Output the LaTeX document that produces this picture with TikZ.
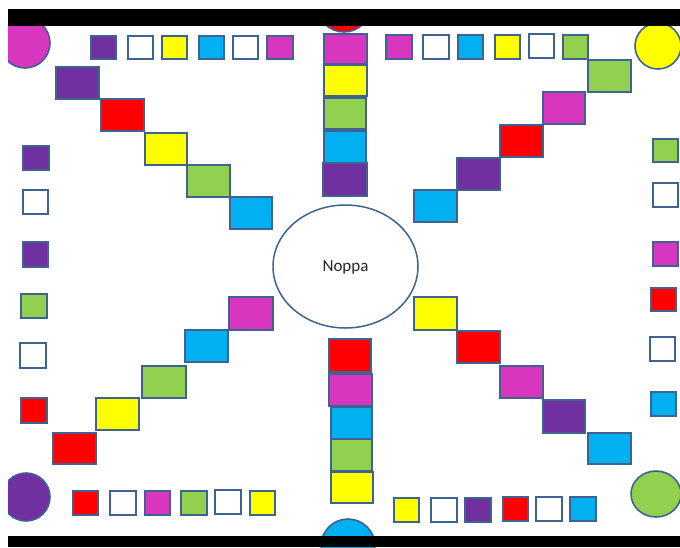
\documentclass[tikz,border=0pt]{standalone}
\usepackage{fontspec}
\setmainfont{Carlito}
\usetikzlibrary{shapes.geometric}
\definecolor{cPur}{HTML}{7030A0}
\definecolor{cMag}{HTML}{D936BF}
\definecolor{cCya}{HTML}{00B0F0}
\definecolor{cGre}{HTML}{92D050}
\definecolor{cYel}{HTML}{FFFF00}
\definecolor{cRed}{HTML}{FF0000}
\definecolor{cWhi}{HTML}{FFFFFF}
\definecolor{edge}{HTML}{3F6391}
\tikzset{
  tile/.style={draw=edge, line width=1.8pt, rectangle, inner sep=0pt, outer sep=0pt},
  disc/.style={draw=edge, line width=1.6pt, ellipse, inner sep=0pt, outer sep=0pt},
  dice/.style={draw=edge, line width=1.5pt, ellipse, fill=white, inner sep=0pt, text depth=0pt, font=\fontsize{17}{20}\selectfont, text=black!85}
}
\newcommand{\tile}[6]{\node[tile,fill=#2,minimum width={#5-#3},minimum height={#6-#4}] (#1) at ({(#3+#5)/2},{(#4+#6)/2}) {};}
\newcommand{\disc}[6]{\node[disc,fill=#2,minimum width={2*#5},minimum height={2*#6}] (#1) at (#3,#4) {};}
\begin{document}
\begin{tikzpicture}[x=1pt,y=-1pt]
\useasboundingbox (0,0) rectangle (680,547);
\begin{scope}
\clip (8,9) rectangle (681,547);
% corner and edge circles
\disc{cTL}{cMag}{25}{43}{25}{25}
\disc{cTR}{cYel}{658}{46}{23}{23}
\disc{cBL}{cPur}{26}{497}{24}{24}
\disc{cBR}{cGre}{656}{494}{25}{23}
\disc{cT}{cRed}{344}{5}{27}{27}
\disc{cB}{cCya}{348}{546}{27}{27}
% centre
\node[dice,minimum width=145,minimum height=123] (noppa) at (345.5,266.5) {Noppa};
% top-left diagonal
\tile{a1}{cPur}{56}{67}{99}{99}
\tile{a2}{cRed}{101}{99}{144}{131}
\tile{a3}{cYel}{145}{133}{187}{165}
\tile{a4}{cGre}{187}{165}{230}{197}
\tile{a5}{cCya}{230}{197}{272}{229}
% top column
\tile{b1}{cMag}{324}{34}{367}{64}
\tile{b2}{cYel}{324}{65}{367}{96}
\tile{b3}{cGre}{324}{98}{366}{129}
\tile{b4}{cCya}{324}{131}{366}{163}
\tile{b5}{cPur}{323}{163}{367}{196}
% top-right diagonal
\tile{c1}{cGre}{588}{60}{631}{92}
\tile{c2}{cMag}{543}{92}{585}{124}
\tile{c3}{cRed}{500}{125}{543}{157}
\tile{c4}{cPur}{457}{158}{500}{190}
\tile{c5}{cCya}{414}{190}{457}{222}
% bottom-left diagonal
\tile{d1}{cMag}{229}{297}{273}{330}
\tile{d2}{cCya}{185}{330}{228}{362}
\tile{d3}{cGre}{142}{366}{186}{398}
\tile{d4}{cYel}{96}{398}{139}{430}
\tile{d5}{cRed}{53}{433}{96}{464}
% bottom column
\tile{e1}{cRed}{329}{339}{371}{372}
\tile{e2}{cMag}{329}{374}{372}{406}
\tile{e3}{cCya}{331}{407}{372}{439}
\tile{e4}{cGre}{331}{439}{372}{471}
\tile{e5}{cYel}{331}{472}{373}{503}
% bottom-right diagonal
\tile{f1}{cYel}{414}{297}{457}{330}
\tile{f2}{cRed}{457}{331}{500}{363}
\tile{f3}{cMag}{500}{366}{543}{398}
\tile{f4}{cPur}{543}{400}{585}{433}
\tile{f5}{cCya}{588}{433}{631}{464}
% top row
\tile{t1}{cPur}{91}{36}{116}{59}
\tile{t2}{cWhi}{128}{36}{153}{59}
\tile{t3}{cYel}{162}{36}{187}{59}
\tile{t4}{cCya}{199}{36}{224}{59}
\tile{t5}{cWhi}{233}{36}{258}{59}
\tile{t6}{cMag}{267}{36}{293}{59}
\tile{t7}{cMag}{386}{35}{412}{59}
\tile{t8}{cWhi}{423}{35}{449}{59}
\tile{t9}{cCya}{458}{35}{483}{59}
\tile{t10}{cYel}{495}{35}{520}{59}
\tile{t11}{cWhi}{529}{34}{554}{58}
\tile{t12}{cGre}{563}{35}{588}{59}
% bottom row
\tile{u1}{cRed}{73}{491}{98}{515}
\tile{u2}{cWhi}{110}{491}{136}{515}
\tile{u3}{cMag}{145}{491}{170}{515}
\tile{u4}{cGre}{181}{491}{207}{515}
\tile{u5}{cWhi}{215}{490}{241}{514}
\tile{u6}{cYel}{250}{491}{275}{515}
\tile{u7}{cYel}{394}{498}{419}{522}
\tile{u8}{cWhi}{431}{498}{457}{522}
\tile{u9}{cPur}{465}{498}{491}{522}
\tile{u10}{cRed}{503}{497}{528}{521}
\tile{u11}{cWhi}{536}{497}{562}{521}
\tile{u12}{cCya}{570}{497}{596}{521}
% left column
\tile{l1}{cPur}{23}{146}{49}{170}
\tile{l2}{cWhi}{23}{190}{48}{214}
\tile{l3}{cPur}{23}{242}{48}{267}
\tile{l4}{cGre}{21}{294}{47}{318}
\tile{l5}{cWhi}{20}{343}{46}{368}
\tile{l6}{cRed}{21}{398}{47}{423}
% right column
\tile{r1}{cGre}{653}{139}{678}{162}
\tile{r2}{cWhi}{653}{183}{678}{207}
\tile{r3}{cMag}{653}{242}{678}{266}
\tile{r4}{cRed}{651}{288}{676}{311}
\tile{r5}{cWhi}{650}{337}{675}{361}
\tile{r6}{cCya}{651}{392}{676}{416}
\end{scope}
% black bars
\fill[black] (8,9) rectangle (680,26);
\fill[black] (8,536) rectangle (680,547);
\end{tikzpicture}
\end{document}
